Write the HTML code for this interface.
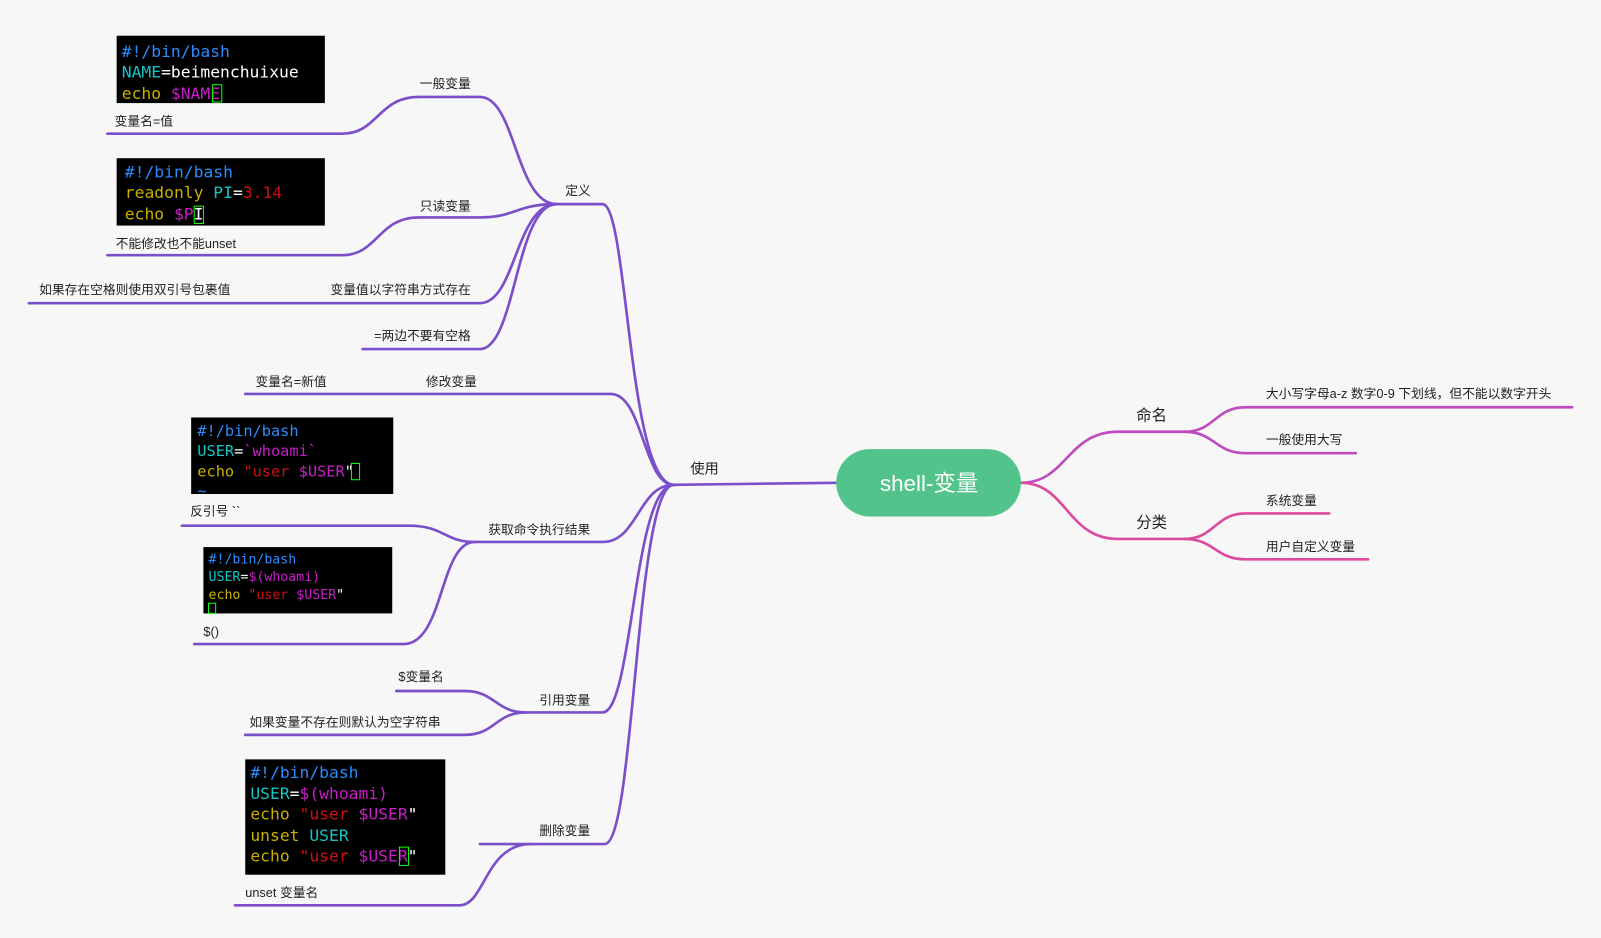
<!DOCTYPE html>
<html><head><meta charset="utf-8"><style>
html,body{margin:0;padding:0;background:#f7f7f7;}
svg{display:block}
.l{font-family:"Liberation Sans","Noto Sans CJK SC",sans-serif;font-size:12.5px;fill:#222}
.m{font-family:"DejaVu Sans Mono","Liberation Mono",monospace}
path{fill:none;stroke-width:2.6;stroke-linecap:round}
.p{stroke:#7b4fc9}
</style></head><body>
<svg width="1601" height="938" viewBox="0 0 1568 919" xmlns="http://www.w3.org/2000/svg">
<rect width="1568" height="919" fill="#f7f7f7"/>
<!-- main -->
<path class="p" d="M660,475 L819,473"/>
<path class="p" d="M545,200 L590,200 C615,200 615,475 660,475"/>
<path class="p" d="M240,386 L598,386 C630,386 630,475 660,475"/>
<path class="p" d="M465,531 L590,531 C625,531 625,475 660,475"/>
<path class="p" d="M515,698 L590,698 C620,698 620,475 660,475"/>
<path class="p" d="M470,827 L592,827 C622,827 622,475 660,475"/>
<!-- 定义 children -->
<path class="p" d="M410,95 L470,95 C505,95 505,200 545,200"/>
<path class="p" d="M105,131 L335,131 C370,131 370,95 410,95"/>
<path class="p" d="M410,213 L470,213 C505,213 505,200 545,200"/>
<path class="p" d="M105,250 L335,250 C370,250 370,213 410,213"/>
<path class="p" d="M28,297 L470,297 C505,297 505,200 545,200"/>
<path class="p" d="M355,342 L470,342 C505,342 505,200 545,200"/>
<!-- 获取 children -->
<path class="p" d="M178,515 L400,515 C435,515 435,531 465,531"/>
<path class="p" d="M190,631 L395,631 C435,631 430,531 465,531"/>
<!-- 引用 children -->
<path class="p" d="M388,677 L455,677 C485,677 485,698 515,698"/>
<path class="p" d="M240,720 L455,720 C485,720 485,698 515,698"/>
<!-- 删除 child -->
<path class="p" d="M230,887 L450,887 C475,887 475,827 520,827"/>
<!-- right -->
<path stroke="#c04bbf" d="M1000,473 C1045,473 1045,423 1095,423 L1160,423"/>
<path stroke="#c04bbf" d="M1160,423 C1190,423 1190,399 1220,399 L1540,399"/>
<path stroke="#c04bbf" d="M1160,423 C1190,423 1190,444 1220,444 L1328,444"/>
<path stroke="#dd4a9e" d="M1000,473 C1045,473 1045,528 1095,528 L1160,528"/>
<path stroke="#dd4a9e" d="M1160,528 C1190,528 1190,503 1220,503 L1302,503"/>
<path stroke="#dd4a9e" d="M1160,528 C1190,528 1190,548 1220,548 L1340,548"/>
<rect x="819" y="440" width="181" height="66" rx="33" fill="#52c48b"/>
<text x="910" y="481" text-anchor="middle" font-family="Liberation Sans,Noto Sans CJK SC,sans-serif" font-size="22" fill="#fff">shell-变量</text>
<!-- labels -->
<g class="l">
<text x="690" y="464" text-anchor="middle" font-size="14">使用</text>
<text x="566" y="191" text-anchor="middle">定义</text>
<text x="436" y="86" text-anchor="middle">一般变量</text>
<text x="112" y="123">变量名=值</text>
<text x="436" y="206" text-anchor="middle">只读变量</text>
<text x="113" y="243">不能修改也不能unset</text>
<text x="38" y="288">如果存在空格则使用双引号包裹值</text>
<text x="461" y="288" text-anchor="end">变量值以字符串方式存在</text>
<text x="461" y="333" text-anchor="end">=两边不要有空格</text>
<text x="250" y="378">变量名=新值</text>
<text x="442" y="378" text-anchor="middle">修改变量</text>
<text x="186" y="505">反引号 ``</text>
<text x="528" y="523" text-anchor="middle">获取命令执行结果</text>
<text x="199" y="623">$()</text>
<text x="390" y="667">$变量名</text>
<text x="553" y="690" text-anchor="middle">引用变量</text>
<text x="244" y="712">如果变量不存在则默认为空字符串</text>
<text x="553" y="818" text-anchor="middle">删除变量</text>
<text x="240" y="879">unset 变量名</text>
<text x="1128" y="412" text-anchor="middle" font-size="15">命名</text>
<text x="1128" y="517" text-anchor="middle" font-size="15">分类</text>
<text x="1240" y="390">大小写字母a-z 数字0-9 下划线，但不能以数字开头</text>
<text x="1240" y="435">一般使用大写</text>
<text x="1240" y="495">系统变量</text>
<text x="1240" y="540">用户自定义变量</text>
</g>
<!-- code boxes -->
<g class="m">
<rect x="114" y="35" width="204" height="66" fill="#000"/>
<text x="119" y="56" font-size="16" fill="#2a8cff">#!/bin/bash</text>
<text x="119" y="76" font-size="16"><tspan fill="#12c6c6">NAME</tspan><tspan fill="#fff">=beimenchuixue</tspan></text>
<text x="119" y="97" font-size="16"><tspan fill="#c8b000">echo </tspan><tspan fill="#c81ec8">$NAME</tspan></text>
<rect x="208" y="83" width="9" height="17" fill="none" stroke="#1f1" stroke-width="1"/>
<rect x="114" y="155" width="204" height="66" fill="#000"/>
<text x="122" y="174" font-size="16" fill="#2a8cff">#!/bin/bash</text>
<text x="122" y="194" font-size="16"><tspan fill="#c8b000">readonly </tspan><tspan fill="#12c6c6">PI</tspan><tspan fill="#fff">=</tspan><tspan fill="#d01010">3.14</tspan></text>
<text x="122" y="215" font-size="16"><tspan fill="#c8b000">echo </tspan><tspan fill="#c81ec8">$P</tspan><tspan fill="#fff">I</tspan></text>
<rect x="190" y="202" width="9" height="17" fill="none" stroke="#1f1" stroke-width="1"/>
<rect x="187" y="409" width="198" height="75" fill="#000"/>
<text x="193" y="427" font-size="15" fill="#2a8cff">#!/bin/bash</text>
<text x="193" y="447" font-size="15"><tspan fill="#12c6c6">USER</tspan><tspan fill="#fff">=</tspan><tspan fill="#c81ec8">`whoami`</tspan></text>
<text x="193" y="467" font-size="15"><tspan fill="#c8b000">echo </tspan><tspan fill="#d01010">"user </tspan><tspan fill="#c81ec8">$USER</tspan><tspan fill="#fff">"</tspan></text>
<rect x="344" y="454" width="8" height="16" fill="none" stroke="#1f1" stroke-width="1"/>
<text x="193" y="486" font-size="15" fill="#2a8cff">~</text>
<rect x="199" y="536" width="185" height="65" fill="#000"/>
<text x="204" y="552" font-size="13" fill="#2a8cff">#!/bin/bash</text>
<text x="204" y="569" font-size="13"><tspan fill="#12c6c6">USER</tspan><tspan fill="#fff">=</tspan><tspan fill="#c81ec8">$(whoami)</tspan></text>
<text x="204" y="587" font-size="13"><tspan fill="#c8b000">echo </tspan><tspan fill="#d01010">"user </tspan><tspan fill="#c81ec8">$USER</tspan><tspan fill="#fff">"</tspan></text>
<rect x="204" y="591" width="7" height="10" fill="none" stroke="#1f1" stroke-width="1"/>
<rect x="240" y="744" width="196" height="113" fill="#000"/>
<text x="245" y="762" font-size="16" fill="#2a8cff">#!/bin/bash</text>
<text x="245" y="783" font-size="16"><tspan fill="#12c6c6">USER</tspan><tspan fill="#fff">=</tspan><tspan fill="#c81ec8">$(whoami)</tspan></text>
<text x="245" y="803" font-size="16"><tspan fill="#c8b000">echo </tspan><tspan fill="#d01010">"user </tspan><tspan fill="#c81ec8">$USER</tspan><tspan fill="#fff">"</tspan></text>
<text x="245" y="824" font-size="16"><tspan fill="#c8b000">unset </tspan><tspan fill="#12c6c6">USER</tspan></text>
<text x="245" y="844" font-size="16"><tspan fill="#c8b000">echo </tspan><tspan fill="#d01010">"user </tspan><tspan fill="#c81ec8">$USER</tspan><tspan fill="#fff">"</tspan></text>
<rect x="391" y="830" width="9" height="18" fill="none" stroke="#1f1" stroke-width="1"/>
</g>
</svg>
</body></html>
